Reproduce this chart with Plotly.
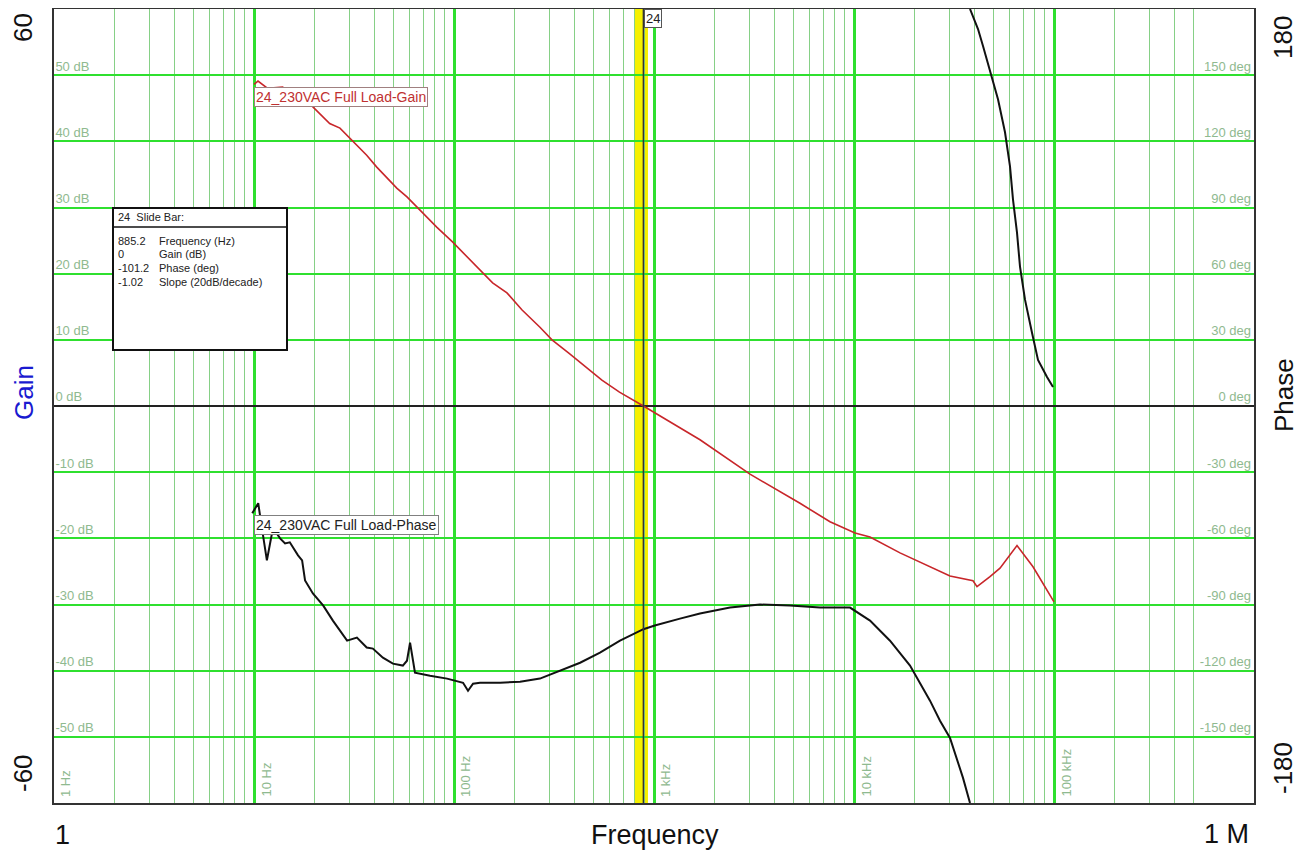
import math
import plotly.graph_objects as go

# ---------------- data ----------------
gain_freq = [10, 10.47, 11.7, 13.9, 19.7, 23.9, 26.9, 30.2, 36.6, 41.1, 46.1, 51.9, 58.2, 67.6,
             82.2, 98.3, 120, 139, 156, 184, 219, 269, 309, 375, 457, 549, 672, 885.2,
             1698, 3020, 5370, 7586, 10116, 12023, 16982, 30200, 39355, 41210, 47863,
             53703, 65313, 78524, 100000]
gain_db = [48.6, 49.1, 48.0, 48.2, 45.2, 42.7, 42.0, 40.5, 37.9, 36.1, 34.6, 32.9, 31.6, 29.6,
           27.0, 24.8, 22.1, 20.1, 18.6, 17.1, 14.5, 11.9, 10.0, 8.0, 5.9, 3.9, 2.1, 0.0,
           -5.1, -10.3, -14.7, -17.5, -19.2, -19.8, -22.2, -25.7, -26.4, -27.3, -25.8,
           -24.5, -21.1, -24.3, -29.6]

phase_freq_a = [9.8, 10.5, 10.9, 11.6, 12.3, 12.7, 13.5, 14.3, 15.1, 16.0, 16.6, 17.4, 18.0,
                19.7, 22.2, 24.8, 29.2, 32.7, 36.6, 39.3, 44.1, 49.5, 55.5, 58.2, 60.3, 62.4,
                63.8, 75.9, 92.3, 111, 117.5, 124.5, 134.9, 170, 214, 269, 339, 427, 537,
                676, 885.2, 1009, 1349, 1698, 2399, 3388, 4786, 6761, 9550, 12023, 15136,
                19055, 23988, 26915, 30200, 35075, 38019]
phase_deg_a = [-48.6, -44.1, -54.1, -70.0, -57.7, -56.4, -60.0, -62.3, -61.8, -65.5, -67.7,
               -70.0, -79.1, -85.0, -90.5, -97.3, -106.4, -105.0, -109.5, -110.0, -114.1,
               -116.8, -117.7, -115.5, -107.3, -115.5, -120.9, -122.3, -123.6, -125.5,
               -129.1, -125.9, -125.5, -125.5, -125.0, -123.6, -120.0, -116.4, -111.8,
               -106.4, -101.2, -99.5, -96.4, -94.1, -91.4, -90.0, -90.5, -91.4, -91.4,
               -97.3, -106.4, -117.7, -133.6, -142.7, -150.5, -168.6, -180.0]

phase_freq_b = [38019, 41687, 44157, 47863, 52480, 56885, 60256, 62373, 65313, 67608, 71614,
                77625, 83176, 92257, 98855]
phase_deg_b = [180.0, 170.9, 163.2, 151.4, 139.1, 124.1, 108.6, 93.6, 78.6, 63.2, 48.2,
               33.2, 20.9, 13.2, 8.6]

gain_ticks = [-50, -40, -30, -20, -10, 0, 10, 20, 30, 40, 50]
phase_ticks = [-150, -120, -90, -60, -30, 0, 30, 60, 90, 120, 150]
freq_decades = [1, 10, 100, 1000, 10000, 100000]
freq_labels = ["1 Hz", "10 Hz", "100 Hz", "1 kHz", "10 kHz", "100 kHz"]

cursor_freq = 885.2
cursor_band = [803, 933]
slide_values = ["885.2", "0", "-101.2", "-1.02"]
slide_names = ["Frequency (Hz)", "Gain (dB)", "Phase (deg)", "Slope (20dB/decade)"]

# ---------------- layout helpers ----------------
OFF = 8                       # page body margin
W, H = 1306 - 2 * OFF, 859 - 2 * OFF
L, R, T, B = 54, 1254, 9, 803  # plot area in page pixels


def px(xp):
    return (xp - L) / (R - L)


def py(yp):
    return (B - yp) / (B - T)


FONT = "Liberation Sans, Arial, sans-serif"
MAJOR = "#2fe02f"
MINOR = "#86d086"
TICKC = "#8fba8f"

fig = go.Figure()

fig.add_trace(go.Scatter(x=gain_freq, y=gain_db, mode="lines",
                         line=dict(color="#c8262a", width=1.6), showlegend=False))
fig.add_trace(go.Scatter(x=phase_freq_a, y=phase_deg_a, mode="lines", yaxis="y2",
                         line=dict(color="#111111", width=2), showlegend=False))
fig.add_trace(go.Scatter(x=phase_freq_b, y=phase_deg_b, mode="lines", yaxis="y2",
                         line=dict(color="#111111", width=2), showlegend=False))

fig.update_layout(
    width=W, height=H,
    margin=dict(l=L - OFF, r=(W + OFF) - R, t=T - OFF, b=(H + OFF) - B, autoexpand=False),
    paper_bgcolor="white", plot_bgcolor="white",
    font=dict(family=FONT),
    xaxis=dict(type="log", range=[0, 6], dtick=1, showgrid=True, gridcolor=MAJOR,
               gridwidth=2.5, showticklabels=False, ticks="", zeroline=False,
               showline=True, linecolor="#333333", linewidth=2, mirror=True,
               minor=dict(dtick="D1", showgrid=True, gridcolor=MINOR, gridwidth=1.2, ticks="")),
    yaxis=dict(range=[-60, 60], tickvals=gain_ticks,
               ticktext=[f"{v} dB" for v in gain_ticks],
               showgrid=True, gridcolor=MAJOR, gridwidth=2.2,
               zeroline=True, zerolinecolor="#222222", zerolinewidth=2,
               ticklabelposition="inside top", tickfont=dict(size=13, color=TICKC, family=FONT),
               ticks="", showline=True, linecolor="#333333", linewidth=2, mirror=True),
    yaxis2=dict(range=[-180, 180], overlaying="y", side="right", tickvals=phase_ticks,
                ticktext=[f"{v} deg" for v in phase_ticks], showgrid=False, zeroline=False,
                ticklabelposition="inside top", tickfont=dict(size=13, color=TICKC, family=FONT),
                ticks=""),
)

# cursor band
fig.add_shape(type="rect", xref="x", yref="paper", x0=cursor_band[0], x1=cursor_band[1],
              y0=0, y1=1, fillcolor="#f6f000", line=dict(width=0), layer="below")
fig.add_shape(type="line", xref="x", yref="paper", x0=cursor_freq, x1=cursor_freq,
              y0=0, y1=1, line=dict(color="#333333", width=1.5))

anns = []
# frequency labels inside bottom (annotation x on a log axis is log10 of the value)
for f, t in zip(freq_decades, freq_labels):
    anns.append(dict(x=math.log10(f), y=0, xref="x", yref="paper", text=t, textangle=-90,
                     showarrow=False, xanchor="left", yanchor="bottom", xshift=2, yshift=4,
                     font=dict(size=13, color=TICKC, family=FONT)))

# outer labels
side = dict(size=26, color="#111111", family=FONT)
bottom = dict(size=27, color="#111111", family=FONT)
outer = [
    dict(x=px(23), y=py(28), text="60", textangle=-90, font=side),
    dict(x=px(23), y=py(773), text="-60", textangle=-90, font=side),
    dict(x=px(24), y=py(393), text="Gain", textangle=-90,
         font=dict(size=26, color="#1a1ad0", family=FONT)),
    dict(x=px(1283), y=py(38), text="180", textangle=-90, font=side),
    dict(x=px(1283), y=py(768), text="-180", textangle=-90, font=side),
    dict(x=px(1284), y=py(395), text="Phase", textangle=-90,
         font=dict(size=26, color="#111111", family=FONT)),
    dict(x=px(62), y=py(835), text="1", font=bottom),
    dict(x=px(655), y=py(835), text="Frequency", font=bottom),
    dict(x=px(1226), y=py(834), text="1 M", font=bottom),
]
for a in outer:
    a.update(xref="paper", yref="paper", showarrow=False, xanchor="center", yanchor="middle")
anns += outer

# curve labels
anns.append(dict(x=px(254), y=py(97), xref="paper", yref="paper", xanchor="left",
                 yanchor="middle", showarrow=False,
                 text="24_230VAC Full Load-Gain", bgcolor="white", bordercolor="#a08080",
                 borderwidth=1, borderpad=1, font=dict(size=14, color="#c03030", family=FONT)))
anns.append(dict(x=px(254), y=py(525), xref="paper", yref="paper", xanchor="left",
                 yanchor="middle", showarrow=False,
                 text="24_230VAC Full Load-Phase", bgcolor="white", bordercolor="#808080",
                 borderwidth=1, borderpad=1, font=dict(size=14, color="#222222", family=FONT)))
anns.append(dict(x=px(644), y=py(18), xref="paper", yref="paper", xanchor="left",
                 yanchor="middle", showarrow=False,
                 text="24", bgcolor="white", bordercolor="#555555",
                 borderwidth=1, borderpad=1, font=dict(size=13, color="#222222", family=FONT)))

# slide bar box
fig.add_shape(type="rect", xref="paper", yref="paper", x0=px(113), x1=px(287), y0=py(350),
              y1=py(208), fillcolor="white", line=dict(color="#111111", width=2))
fig.add_shape(type="line", xref="paper", yref="paper", x0=px(113), x1=px(287), y0=py(227),
              y1=py(227), line=dict(color="#111111", width=1.5))
small = dict(size=11, color="#222222", family=FONT)
anns.append(dict(x=px(116), y=py(217), xref="paper", yref="paper", xanchor="left",
                 yanchor="middle", showarrow=False, text="24  Slide Bar:", font=small))
for i, (v, n) in enumerate(zip(slide_values, slide_names)):
    yy = 241 + i * 13.5
    anns.append(dict(x=px(116), y=py(yy), xref="paper", yref="paper", xanchor="left",
                     yanchor="middle", showarrow=False, text=v, font=small))
    anns.append(dict(x=px(157), y=py(yy), xref="paper", yref="paper", xanchor="left",
                     yanchor="middle", showarrow=False, text=n, font=small))

fig.update_layout(annotations=anns)
fig.write_html("out.html")
